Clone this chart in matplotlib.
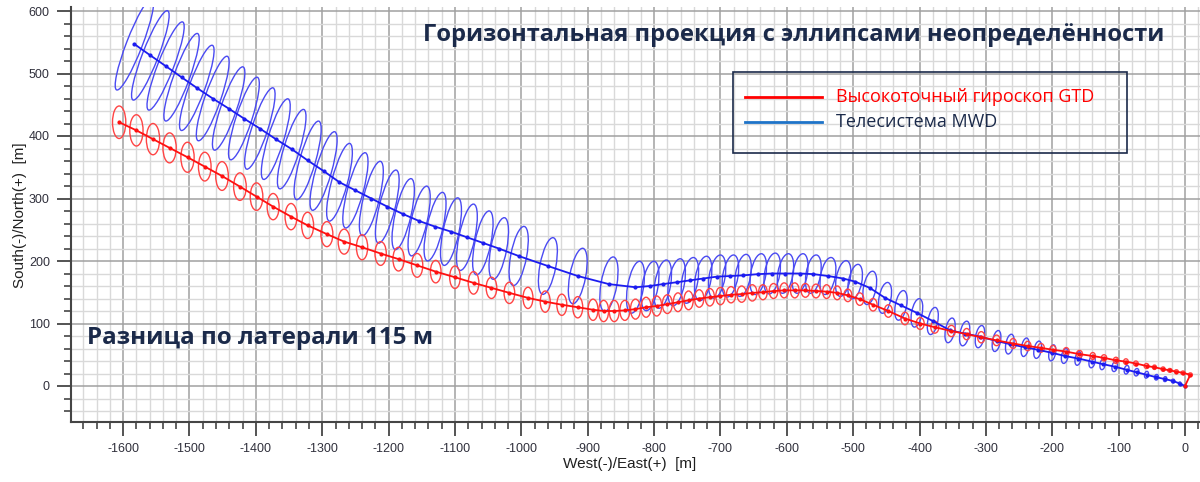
import matplotlib
matplotlib.use("Agg")
import matplotlib.pyplot as plt
from matplotlib.patches import Ellipse, Rectangle
from matplotlib.lines import Line2D
from matplotlib.ticker import MultipleLocator

plt.rcParams["axes.unicode_minus"] = False

# ---------------- data ----------------
title = "Горизонтальная проекция с эллипсами неопределённости"
note = "Разница по латерали 115 м"
legend_labels = ["Высокоточный гироскоп GTD", "Телесистема MWD"]
x_label = "West(-)/East(+)  [m]"
y_label = "South(-)/North(+)  [m]"
x_ticks = list(range(-1600, 1, 100))
y_ticks = list(range(0, 601, 100))
wellhead = (0, 0)

# GTD (red) stations: east, north, ellipse semi-height (N-S), semi-width (E-W)
red_x = [-1606, -1580, -1555, -1530, -1503, -1477, -1451, -1424, -1399, -1374,
         -1347, -1322, -1293, -1267, -1240, -1212, -1185, -1157, -1129, -1100,
         -1072, -1045, -1018, -990, -964, -939, -915, -892, -876, -860,
         -844, -828, -812, -796, -780, -764, -748, -732, -716, -700,
         -684, -668, -652, -636, -620, -604, -588, -572, -556, -540,
         -524, -508, -490, -470, -447, -422, -399, -377, -352, -329,
         -307, -284, -259, -237, -217, -199, -179, -159, -139, -122,
         -104, -89, -74, -58, -46, -33, -23, -13, -3, 8]
red_y = [422, 409, 395, 381, 366, 351, 336, 319, 303, 287,
         271, 257, 243, 231, 222, 212, 203, 193, 183, 174,
         165, 157, 149, 141, 135, 130, 126, 122, 120, 120,
         121, 123, 126, 128, 131, 134, 137, 140, 142, 144,
         146, 147, 149, 150, 152, 153, 153, 153, 152, 151,
         149, 145, 139, 130, 120, 108, 100, 94, 88, 83,
         78, 73, 68, 64, 61, 58, 55, 51, 48, 45,
         41, 39, 36, 32, 30, 27, 25, 23, 21, 18]
red_h = [26, 25, 25, 24, 24, 23, 23, 22, 22, 21,
         21, 21, 20, 20, 20, 19, 19, 19, 18, 18,
         18, 17, 17, 17, 17, 17, 17, 17, 17, 17,
         16, 16, 16, 16, 15, 15, 15, 14, 14, 14,
         13, 13, 13, 12, 12, 12, 12, 11, 11, 11,
         11, 10, 10, 10, 10, 10, 9.5, 9.5, 9, 9,
         9, 8.5, 8, 7.5, 7, 7, 6.5, 6, 5.5, 5,
         5, 4.5, 4, 4, 3.5, 3.5, 3, 3, 3, 3]
red_w = [10, 10, 10, 10, 10, 9.5, 9.5, 9.5, 9.5, 9,
         9, 9, 9, 9, 8.5, 8.5, 8.5, 8.5, 8, 8,
         8, 8, 8, 7.5, 7.5, 7.5, 7.5, 7.5, 7.5, 7.5,
         7.5, 7.5, 7.5, 7.5, 7.5, 7, 7, 7, 7, 7,
         7, 7, 7, 6.5, 6.5, 6.5, 6.5, 6.5, 6.5, 6,
         6, 6, 6, 6, 6, 6, 6, 6, 6, 5.5,
         5.5, 5.5, 5, 5, 5, 4.5, 4.5, 4.5, 4, 4,
         4, 3.5, 3.5, 3.5, 3, 3, 3, 3, 3, 3]

# MWD (blue) stations: east, north, semi-major, semi-minor, major-axis angle (deg)
blue_x = [-1583, -1559, -1536, -1512, -1489, -1465, -1441, -1418, -1394, -1370,
          -1346, -1322, -1298, -1274, -1250, -1226, -1202, -1178, -1154, -1130,
          -1106, -1082, -1058, -1034, -1004, -960, -915, -868, -828, -806,
          -787, -766, -746, -726, -705, -685, -666, -643, -622, -602,
          -580, -560, -538, -515, -497, -475, -452, -428, -404, -380,
          -354, -332, -309, -284, -264, -241, -222, -200, -181, -161,
          -140, -124, -106, -88, -73, -58, -43, -30, -18, -8]
blue_y = [547, 529, 512, 494, 477, 460, 444, 428, 412, 395,
          379, 361, 344, 326, 313, 300, 287, 275, 264, 255,
          247, 238, 229, 220, 208, 192, 176, 163, 158, 160,
          163, 166, 169, 172, 175, 176, 177, 179, 180, 180,
          180, 179, 176, 172, 167, 157, 141, 129, 117, 104,
          89, 84, 79, 72, 67, 62, 58, 53, 48, 44,
          39, 35, 31, 26, 22, 18, 14, 11, 8, 4]
blue_a = [78, 76, 75, 74, 72, 71, 70, 69, 68, 67,
          66, 65, 65, 64, 62, 61, 60, 58, 57, 56,
          55, 54, 52, 50, 48, 46, 45, 44, 42, 40,
          39, 38, 37, 36, 35, 34, 34, 33, 33, 32,
          32, 31, 30, 29, 28, 27, 25, 24, 23, 22,
          20, 20, 18, 17, 16, 15, 14, 13, 12, 11,
          10, 9, 8, 7, 6, 5.5, 4.5, 4, 3, 2.5]
blue_b = [12, 12, 12, 12, 12, 12, 12, 12, 12, 12,
          12, 12, 12, 12, 12, 12, 12, 12, 12, 12,
          12, 12, 12, 12, 12, 12, 12, 12, 12, 12,
          12, 12, 12, 12, 12, 11.5, 11.5, 11.5, 11.5, 11.5,
          11, 11, 11, 10.5, 10, 9.5, 9, 8.5, 8, 7.5,
          7, 7, 6.5, 6, 6, 5.5, 5.5, 5, 5, 4.5,
          4.5, 4, 4, 3.5, 3.5, 3, 3, 2.5, 2.5, 2]
blue_ang = [70, 70, 70, 71, 71, 72, 72, 73, 73, 74,
            74, 75, 75, 76, 76, 77, 77, 78, 78, 78,
            79, 79, 79, 80, 80, 80, 80, 81, 81, 81,
            81, 81, 81, 81, 81, 81, 81, 81, 81, 81,
            81, 81, 80, 80, 80, 80, 80, 80, 80, 80,
            80, 80, 80, 80, 80, 80, 80, 80, 80, 80,
            80, 80, 80, 80, 80, 80, 80, 80, 80, 80]

# ---------------- style ----------------
RED_LINE = "#ff1010"
RED_ELL = "#ff4444"
BLUE_LINE = "#1c1cf0"
BLUE_ELL = "#4a4af2"
LEG_BLUE = "#1e73c8"
NAVY = "#1b2a4a"
TICK_C = "#30303c"

W, H = 1200, 482
fig = plt.figure(figsize=(W / 100, H / 100), dpi=100)
ax_left, ax_right, ax_top, ax_bot = 70.7, 1200, 7, 422
ax = fig.add_axes([ax_left / W, 1 - ax_bot / H, (ax_right - ax_left) / W, (ax_bot - ax_top) / H])
ax.set_xlim(-1679, 22.6)
ax.set_ylim(-57.6, 606.4)

ax.set_xticks(x_ticks)
ax.set_yticks(y_ticks)
ax.xaxis.set_minor_locator(MultipleLocator(20))
ax.yaxis.set_minor_locator(MultipleLocator(20))
ax.grid(which="minor", color="#d9d9d9", lw=1.0, zorder=0)
ax.grid(which="major", color="#a0a0a0", lw=1.1, zorder=0)
ax.set_axisbelow(True)
for s in ("top", "right"):
    ax.spines[s].set_visible(False)
for s in ("left", "bottom"):
    ax.spines[s].set_color("#454545")
    ax.spines[s].set_linewidth(1.5)
ax.tick_params(which="major", length=10, width=1.3, color="#454545", labelsize=9,
               labelcolor=TICK_C, pad=5)
ax.tick_params(which="minor", length=5, width=1.2, color="#454545")
for lab in ax.get_xticklabels() + ax.get_yticklabels():
    lab.set_fontfamily("Liberation Sans")

# ellipses
for x, y, h, w in zip(red_x, red_y, red_h, red_w):
    ax.add_patch(Ellipse((x, y), 2 * w, 2 * h, angle=0, fill=False, ec=RED_ELL, lw=1.0, zorder=3))
for x, y, a, b, t in zip(blue_x, blue_y, blue_a, blue_b, blue_ang):
    ax.add_patch(Ellipse((x, y), 2 * a, 2 * b, angle=t, fill=False, ec=BLUE_ELL, lw=1.0, zorder=2))

# trajectories
ax.plot(blue_x + [wellhead[0]], blue_y + [wellhead[1]], color=BLUE_LINE, lw=1.3,
        marker="o", ms=2.0, zorder=4)
ax.plot(red_x + [wellhead[0]], red_y + [wellhead[1]], color=RED_LINE, lw=1.3,
        marker="o", ms=2.0, zorder=5)

ax.set_xlabel(x_label, fontsize=11, family="Liberation Sans", color="#202020")
ax.set_ylabel(y_label, fontsize=11, family="Liberation Sans", color="#202020")
ax.xaxis.set_label_coords((630 - ax_left) / (ax_right - ax_left), -(464 - ax_bot) / (ax_bot - ax_top))
ax.yaxis.set_label_coords(-(ax_left - 20) / (ax_right - ax_left), (ax_bot - 215) / (ax_bot - ax_top))
ax.xaxis.label.set_va("center")
ax.yaxis.label.set_va("center")

def fx(px):
    return px / W

def fy(py):
    return 1 - py / H

fig.text(fx(423), fy(35), title, fontsize=17.1, fontweight="bold", family="Open Sans",
         color=NAVY, ha="left", va="center")
fig.text(fx(87), fy(338), note, fontsize=17.4, fontweight="bold", family="Open Sans",
         color=NAVY, ha="left", va="center")

# legend box
fig.patches.append(Rectangle((fx(733), fy(153)), fx(1127) - fx(733), fy(72) - fy(153),
                             transform=fig.transFigure, fill=False, ec=NAVY, lw=1.2))
fig.lines.append(Line2D([fx(745), fx(822)], [fy(97), fy(97)], transform=fig.transFigure,
                        color="#ff0000", lw=2))
fig.lines.append(Line2D([fx(745), fx(822)], [fy(122), fy(122)], transform=fig.transFigure,
                        color=LEG_BLUE, lw=2))
fig.text(fx(836), fy(97), legend_labels[0], fontsize=13, family="Open Sans",
         color="#ff0000", ha="left", va="center")
fig.text(fx(836), fy(122), legend_labels[1], fontsize=13, family="Open Sans",
         color=NAVY, ha="left", va="center")

fig.savefig("out.png", dpi=100)
